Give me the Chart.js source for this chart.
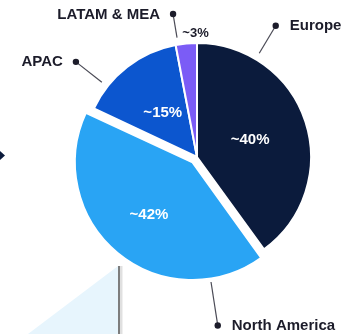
<!DOCTYPE html>
<html>
<head>
<meta charset="utf-8">
<style>
  html, body { margin: 0; padding: 0; background: #ffffff; overflow: hidden; }
  canvas { display: block; }
</style>
<script src="https://cdn.jsdelivr.net/npm/chart.js@4.4.1/dist/chart.umd.min.js"></script>
</head>
<body>
<canvas id="c" width="358" height="334"></canvas>
<script>
// Regional revenue split
const regions = ['Europe', 'North America', 'APAC', 'LATAM & MEA'];
const shares = [40, 42, 15, 3];
const sliceColors = ['#0b1b3c', '#29a4f4', '#0c56cf', '#7b5cf6'];

const LABEL_FONT = 'bold 15px "Liberation Sans", Arial, sans-serif';
const TEXT_DARK = '#1c1c2a';

// Background accents: the callout wedge under the pie and the arrow tip on the left
const accentPlugin = {
  id: 'accents',
  beforeDatasetsDraw(chart) {
    const ctx = chart.ctx;
    const h = chart.height;
    ctx.save();
    ctx.fillStyle = '#e7f5fd';
    ctx.beginPath();
    ctx.moveTo(118, 266);
    ctx.lineTo(118, h);
    ctx.lineTo(28, h);
    ctx.closePath();
    ctx.fill();
    ctx.strokeStyle = 'rgba(0,0,0,0.12)';
    ctx.lineWidth = 3;
    ctx.beginPath();
    ctx.moveTo(121, 266);
    ctx.lineTo(121, h);
    ctx.stroke();
    ctx.strokeStyle = '#7d7d7d';
    ctx.lineWidth = 2;
    ctx.beginPath();
    ctx.moveTo(119, 266);
    ctx.lineTo(119, h);
    ctx.stroke();
    ctx.fillStyle = '#0b1b3c';
    ctx.beginPath();
    ctx.moveTo(0, 151);
    ctx.lineTo(5, 155.5);
    ctx.lineTo(0, 160);
    ctx.closePath();
    ctx.fill();
    ctx.restore();
  }
};

// Percentage labels and region call-outs with leader lines
const calloutPlugin = {
  id: 'regionCallouts',
  afterDatasetsDraw(chart, args, opts) {
    const ctx = chart.ctx;
    const meta = chart.getDatasetMeta(0);
    const values = chart.data.datasets[0].data;
    const names = chart.data.labels;
    ctx.save();
    meta.data.forEach((arc, i) => {
      const p = arc.getProps(['x', 'y', 'startAngle', 'endAngle', 'outerRadius'], true);
      const mid = (p.startAngle + p.endAngle) / 2;
      const shift = (arc.options.offset || 0) / 4;
      const cx = p.x + Math.cos(mid) * shift;
      const cy = p.y + Math.sin(mid) * shift;
      const R = p.outerRadius;
      const value = values[i];

      // percentage text
      ctx.textBaseline = 'middle';
      if (value >= 5) {
        const r = R * (shift > 0 ? 0.6 : 0.49);
        ctx.font = LABEL_FONT;
        ctx.fillStyle = '#ffffff';
        ctx.textAlign = 'center';
        ctx.fillText('~' + value + '%', cx + Math.cos(mid) * r, cy + Math.sin(mid) * r);
      } else {
        const r = R + 10;
        ctx.font = 'bold 13px "Liberation Sans", Arial, sans-serif';
        ctx.fillStyle = TEXT_DARK;
        ctx.textAlign = 'left';
        ctx.fillText('~' + value + '%', cx + Math.cos(mid) * r - 3, cy + Math.sin(mid) * r);
      }

      // leader line, dot and region name
      const a = p.startAngle + opts.anchorFraction[i] * (p.endAngle - p.startAngle);
      const L = opts.leaderLength[i];
      const x0 = cx + Math.cos(a) * (R + 7), y0 = cy + Math.sin(a) * (R + 7);
      const x1 = cx + Math.cos(a) * (R + L), y1 = cy + Math.sin(a) * (R + L);
      ctx.strokeStyle = '#4a4a55';
      ctx.lineWidth = 1.2;
      ctx.beginPath();
      ctx.moveTo(x0, y0);
      ctx.lineTo(x1, y1);
      ctx.stroke();
      ctx.fillStyle = TEXT_DARK;
      ctx.beginPath();
      ctx.arc(x1, y1, 3.2, 0, Math.PI * 2);
      ctx.fill();

      const rightSide = x1 >= p.x;
      ctx.font = LABEL_FONT;
      ctx.textAlign = rightSide ? 'left' : 'right';
      ctx.textBaseline = 'middle';
      ctx.fillText(names[i], x1 + (rightSide ? 14 : -13), y1 + 0.5);
    });
    ctx.restore();
  }
};

new Chart(document.getElementById('c'), {
  type: 'pie',
  data: {
    labels: regions,
    datasets: [{
      data: shares,
      backgroundColor: sliceColors,
      borderColor: '#ffffff',
      borderWidth: 2,
      offset: [0, 28, 0, 0]
    }]
  },
  options: {
    responsive: false,
    animation: false,
    events: [],
    layout: { padding: { left: 68, right: 32, top: 28, bottom: 48 } },
    plugins: {
      legend: { display: false },
      tooltip: { enabled: false },
      regionCallouts: {
        anchorFraction: [0.215, 0.18, 0.24, 0.12],
        leaderLength: [39, 51, 40, 31]
      }
    }
  },
  plugins: [accentPlugin, calloutPlugin]
});
</script>
</body>
</html>
